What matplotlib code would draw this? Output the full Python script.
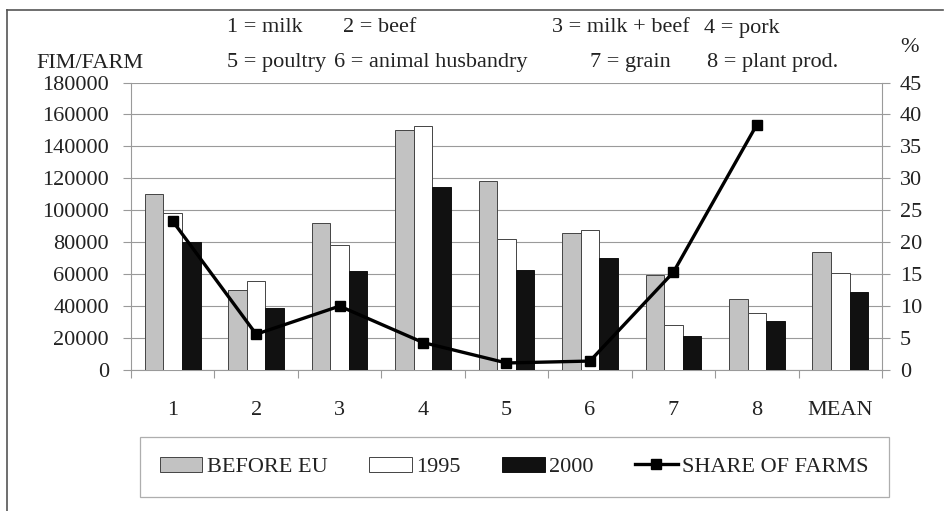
import numpy as np
import matplotlib
matplotlib.use("Agg")
import matplotlib.pyplot as plt
from matplotlib.lines import Line2D

categories = ["1", "2", "3", "4", "5", "6", "7", "8", "MEAN"]
before_eu = [110000, 50000, 92000, 150000, 118500, 85700, 59200, 44600, 73600]
y1995 = [98000, 55500, 78000, 152500, 82000, 87800, 28400, 35500, 61000]
y2000 = [80000, 39000, 62000, 114500, 62500, 70000, 21500, 30700, 49000]
share_of_farms = [23.3, 5.6, 10.0, 4.3, 1.1, 1.4, 15.3, 38.4]

key_row1 = [("1 = milk", 227), ("2 = beef", 343), ("3 = milk + beef", 552), ("4 = pork", 704)]
key_row2 = [("5 = poultry", 227), ("6 = animal husbandry", 334), ("7 = grain", 590), ("8 = plant prod.", 707)]

plt.rcParams["font.family"] = "Liberation Serif"
plt.rcParams["font.size"] = 16
plt.rcParams["text.color"] = "#222222"
plt.rcParams["xtick.color"] = "#222222"
plt.rcParams["ytick.color"] = "#222222"

W, H = 945, 511
fig = plt.figure(figsize=(W / 100, H / 100), dpi=100)
fig.subplots_adjust(left=131 / W, right=882 / W, top=1 - 82.5 / H, bottom=1 - 370 / H)
ax = fig.add_subplot(111)

def fx(px):
    return px / W

def fy(py):
    return 1 - py / H

x = np.arange(len(categories))
bw = 0.222
grid_c = "#9a9a9a"

ax.bar(x - bw, before_eu, bw, color="#c2c2c2", edgecolor="#444444", linewidth=0.7, label="BEFORE EU", zorder=3)
ax.bar(x, y1995, bw, color="white", edgecolor="#444444", linewidth=0.7, label="1995", zorder=3)
ax.bar(x + bw, y2000, bw, color="#111111", edgecolor="#111111", linewidth=0.7, label="2000", zorder=3)

ax.set_xlim(-0.5, len(categories) - 0.5)
ax.set_ylim(0, 180000)
ax.set_yticks(np.arange(0, 180001, 20000))
ax.yaxis.grid(True, color=grid_c, linewidth=0.8, zorder=0)
ax.set_axisbelow(True)

# boundary ticks (no labels) and centred labels
ax.set_xticks(np.arange(-0.5, len(categories) - 0.4, 1.0))
ax.set_xticklabels([])
ax.tick_params(axis="x", which="major", length=6, color=grid_c, direction="out")
ax.set_xticks(x, minor=True)
ax.set_xticklabels(categories, minor=True)
ax.tick_params(axis="x", which="minor", length=0, pad=22)
ax.tick_params(axis="y", length=6, color=grid_c, pad=10)

for s in ["left", "right", "bottom"]:
    ax.spines[s].set_color(grid_c)
ax.spines["top"].set_visible(False)

ax2 = ax.twinx()
ax2.plot(x[:len(share_of_farms)], share_of_farms, color="black", linewidth=2.4,
         marker="s", markersize=7.8, label="SHARE OF FARMS", zorder=5)
ax2.set_ylim(0, 45)
ax2.set_yticks(np.arange(0, 46, 5))
ax2.tick_params(axis="y", length=6, color=grid_c, pad=7)
for s in ["left", "right", "bottom", "top"]:
    ax2.spines[s].set_visible(False)

# axis captions and category key
fig.text(fx(36), fy(63), "FIM/FARM", va="center", ha="left")
fig.text(fx(900), fy(48), "%", va="center", ha="left")
for txt, px in key_row1:
    fig.text(fx(px), fy(28), txt, va="center", ha="left")
for txt, px in key_row2:
    fig.text(fx(px), fy(62), txt, va="center", ha="left")

h1, l1 = ax.get_legend_handles_labels()
h2, l2 = ax2.get_legend_handles_labels()
leg = fig.legend(h1 + h2, l1 + l2, loc="lower left",
                 bbox_to_anchor=(fx(140), fy(497), fx(889) - fx(140), 0.12),
                 mode="expand", ncol=4, borderaxespad=0, borderpad=0.9,
                 handlelength=1.9, handleheight=0.68, handletextpad=0.22,
                 fancybox=False, frameon=True)
leg.get_frame().set_edgecolor(grid_c)
leg.get_frame().set_linewidth(0.9)

# outer frame lines (left and top)
fig.add_artist(Line2D([fx(7.5), fx(7.5)], [0, fy(10)], color="#555555", linewidth=1.2))
fig.add_artist(Line2D([fx(7.5), fx(943)], [fy(10), fy(10)], color="#555555", linewidth=1.2))

fig.savefig("out.png", dpi=100)
